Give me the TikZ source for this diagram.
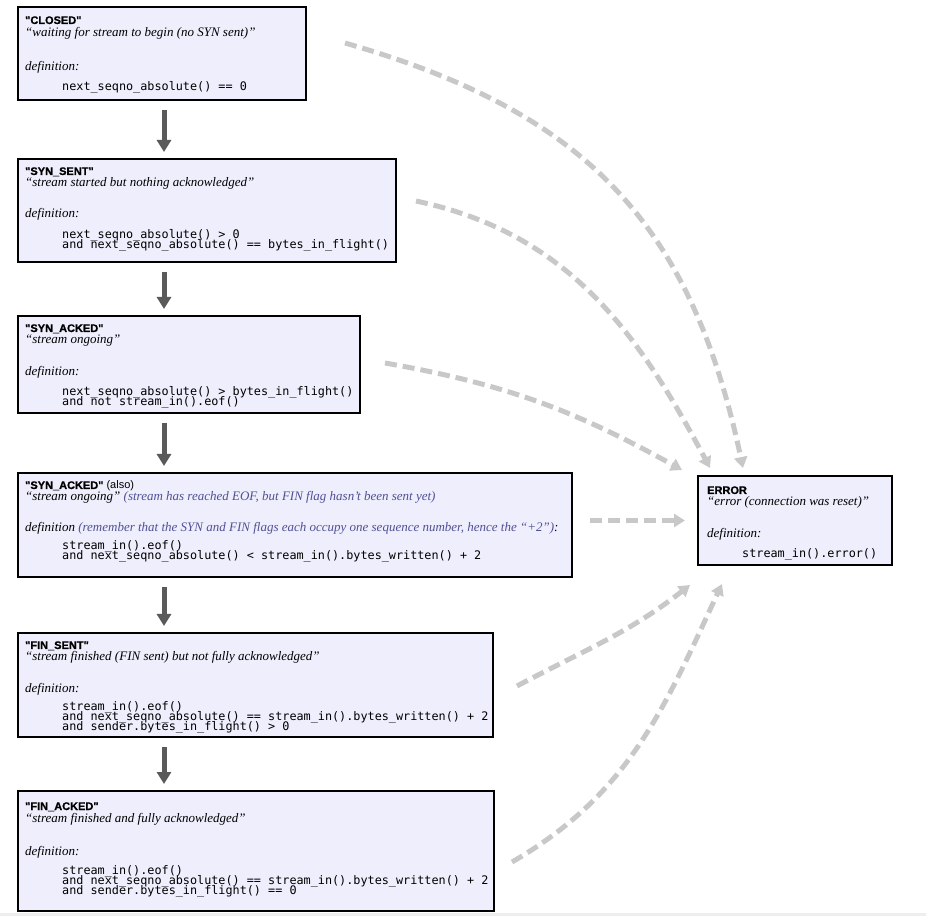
\documentclass[tikz,border=0pt]{standalone}
\usepackage{fontspec}
\setmainfont{Liberation Serif}
\newfontfamily\hdrfont{Liberation Sans}[BoldFeatures={FakeBold=0.8}]
\newfontfamily\codefont{DejaVu Sans Mono}
\usetikzlibrary{arrows.meta}
\definecolor{boxfill}{RGB}{238,238,252}
\definecolor{stepgray}{RGB}{90,90,90}
\definecolor{failgray}{RGB}{200,200,200}
\definecolor{notecol}{RGB}{80,80,150}
\definecolor{bandcol}{RGB}{236,240,234}
\newcommand{\note}[1]{{\color{notecol}#1}}
\newcommand{\codesize}{\codefont\fontsize{11.8}{10}\selectfont\lineskiplimit=-100pt\relax}

\begin{document}
\begin{tikzpicture}[x=1pt,y=1pt,
  statebox/.style={draw,line width=2.4pt,fill=boxfill,anchor=north west,inner sep=0pt},
  hdr/.style={anchor=base west,inner sep=0pt,font=\hdrfont\bfseries\fontsize{11}{12}\selectfont},
  dsc/.style={anchor=base west,inner sep=0pt,font=\itshape\fontsize{13}{14}\selectfont},
  code/.style={anchor=north west,inner sep=0pt,align=left,font=\codesize},
  next/.style={draw=stepgray,line width=5pt,-{Triangle[length=12pt,width=14pt]},
    shorten <=9pt,shorten >=6pt},
  fail/.style={draw=failgray,line width=5pt,dash pattern=on 12pt off 6pt,
    -{Triangle[length=11pt,width=13pt]}}]
  \useasboundingbox (0,0) rectangle (926,916);
  \fill[bandcol] (0,0) rectangle (926,3);

  % the states, top to bottom
  \node[statebox,minimum width=287.6pt,minimum height=92.6pt] (closed) at (17,910) {};
  \node[statebox,minimum width=377.6pt,minimum height=102.6pt] (synsent) at (17,758) {};
  \node[statebox,minimum width=341.6pt,minimum height=96.6pt] (synacked) at (17,601) {};
  \node[statebox,minimum width=553.6pt,minimum height=103.6pt] (synackedb) at (17,444) {};
  \node[statebox,minimum width=474.6pt,minimum height=103.6pt] (finsent) at (17,284) {};
  \node[statebox,minimum width=475.6pt,minimum height=119.6pt] (finacked) at (17,126) {};
  \node[statebox,minimum width=193.6pt,minimum height=88.6pt] (error) at (697,441) {};

  \node[hdr] (closedhdr) at ([shift={(8,-18)}]closed.north west) {"CLOSED"};
  \node[dsc] (closeddsc) at ([shift={(8,-31)}]closed.north west) {“waiting for stream to begin (no SYN sent)”};
  \node[dsc] (closeddef) at ([shift={(8,-65)}]closed.north west) {definition:};
  \node[code] (closedcode) at ([shift={(45,-74)}]closed.north west) {\rule{0pt}{10pt}next\_seqno\_absolute() == 0};

  \node[hdr] (synsenthdr) at ([shift={(8,-17)}]synsent.north west) {"SYN\_SENT"};
  \node[dsc] (synsentdsc) at ([shift={(8,-29)}]synsent.north west) {“stream started but nothing acknowledged”};
  \node[dsc] (synsentdef) at ([shift={(8,-60)}]synsent.north west) {definition:};
  \node[code] (synsentcode) at ([shift={(45,-70)}]synsent.north west)
    {\rule{0pt}{10pt}next\_seqno\_absolute() > 0\\and next\_seqno\_absolute() == bytes\_in\_flight()};

  \node[hdr] (synackedhdr) at ([shift={(8,-17)}]synacked.north west) {"SYN\_ACKED"};
  \node[dsc] (synackeddsc) at ([shift={(8,-29)}]synacked.north west) {“stream ongoing”};
  \node[dsc] (synackeddef) at ([shift={(8,-61)}]synacked.north west) {definition:};
  \node[code] (synackedcode) at ([shift={(45,-70)}]synacked.north west)
    {\rule{0pt}{10pt}next\_seqno\_absolute() > bytes\_in\_flight()\\and not stream\_in().eof()};

  \node[hdr] (synackedbhdr) at ([shift={(8,-17)}]synackedb.north west) {"SYN\_ACKED" {\mdseries (also)}};
  \node[dsc] (synackedbdsc) at ([shift={(8,-29)}]synackedb.north west)
    {“stream ongoing” \note{(stream has reached EOF, but FIN flag hasn’t been sent yet)}};
  \node[dsc] (synackedbdef) at ([shift={(8,-60)}]synackedb.north west)
    {definition \note{(remember that the SYN and FIN flags each occupy one sequence number, hence the “+2”)}:};
  \node[code] (synackedbcode) at ([shift={(45,-67)}]synackedb.north west)
    {\rule{0pt}{10pt}stream\_in().eof()\\and next\_seqno\_absolute() < stream\_in().bytes\_written() + 2};

  \node[hdr] (finsenthdr) at ([shift={(8,-17)}]finsent.north west) {"FIN\_SENT"};
  \node[dsc] (finsentdsc) at ([shift={(8,-29)}]finsent.north west) {“stream finished (FIN sent) but not fully acknowledged”};
  \node[dsc] (finsentdef) at ([shift={(8,-61)}]finsent.north west) {definition:};
  \node[code] (finsentcode) at ([shift={(45,-68)}]finsent.north west)
    {\rule{0pt}{10pt}stream\_in().eof()\\and next\_seqno\_absolute() == stream\_in().bytes\_written() + 2\\and sender.bytes\_in\_flight() > 0};

  \node[hdr] (finackedhdr) at ([shift={(8,-20)}]finacked.north west) {"FIN\_ACKED"};
  \node[dsc] (finackeddsc) at ([shift={(8,-32)}]finacked.north west) {“stream finished and fully acknowledged”};
  \node[dsc] (finackeddef) at ([shift={(8,-65)}]finacked.north west) {definition:};
  \node[code] (finackedcode) at ([shift={(45,-74)}]finacked.north west)
    {\rule{0pt}{10pt}stream\_in().eof()\\and next\_seqno\_absolute() == stream\_in().bytes\_written() + 2\\and sender.bytes\_in\_flight() == 0};

  \node[hdr] (errorhdr) at ([shift={(10,-19)}]error.north west) {ERROR};
  \node[dsc] (errordsc) at ([shift={(10,-31)}]error.north west) {“error (connection was reset)”};
  \node[dsc] (errordef) at ([shift={(10,-63)}]error.north west) {definition:};
  \node[code] (errorcode) at ([shift={(45,-72)}]error.north west) {\rule{0pt}{10pt}stream\_in().error()};

  % normal progress
  \draw[next] ([shift={(147,0)}]closed.south west) -- ([shift={(147,0)}]synsent.north west);
  \draw[next] ([shift={(147,0)}]synsent.south west) -- ([shift={(147,0)}]synacked.north west);
  \draw[next] ([shift={(147,0)}]synacked.south west) -- ([shift={(147,0)}]synackedb.north west);
  \draw[next] ([shift={(147,0)}]synackedb.south west) -- ([shift={(147,0)}]finsent.north west);
  \draw[next] ([shift={(147,0)}]finsent.south west) -- ([shift={(147,0)}]finacked.north west);

  % any state can go to error
  \draw[fail] ([shift={(38,-37)}]closed.north east) to[out=-16,in=102,looseness=1.1] ([shift={(46,7)}]error.north west);
  \draw[fail] ([shift={(19,-43)}]synsent.north east) to[out=-12,in=118] ([shift={(13,7)}]error.north west);
  \draw[fail] ([shift={(24,-48)}]synacked.north east) to[out=-10,in=151] ([shift={(-15,5)}]error.north west);
  \draw[fail,shorten <=17pt,shorten >=12pt] (synackedb.east |- error.west) -- (error.west);
  \draw[fail] ([shift={(23,-54)}]finsent.north east) to[out=28,in=218] ([shift={(-7,-19)}]error.south west);
  \draw[fail] ([shift={(17,-72)}]finacked.north east) to[out=30,in=245] ([shift={(25,-18)}]error.south west);
\end{tikzpicture}
\end{document}
